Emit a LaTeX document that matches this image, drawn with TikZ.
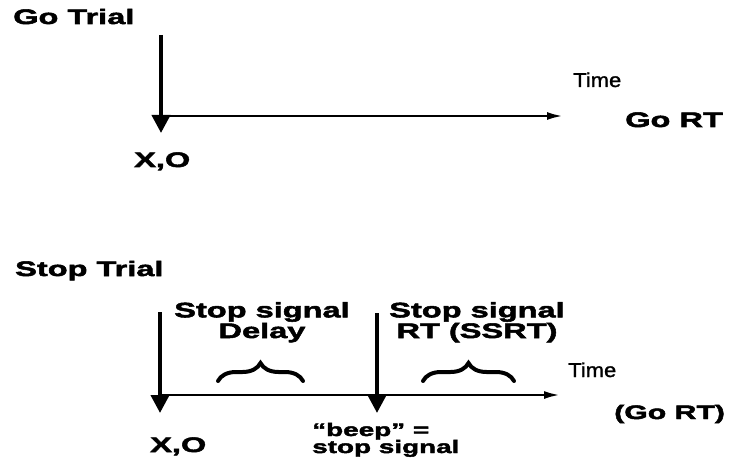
\documentclass[tikz,border=0pt]{standalone}
\usepackage{fontspec}
\setmainfont{Liberation Sans}
\newfontfamily\heavyfont[FakeStretch=1.55,FakeBold=2.5]{Liberation Sans}
\newfontfamily\plainfont[FakeStretch=1.1,FakeBold=1.2]{Liberation Sans}
\usetikzlibrary{arrows.meta, decorations.pathreplacing, positioning}

\begin{document}
\begin{tikzpicture}[
    x=1pt, y=-1pt,
    title/.style={font=\heavyfont\bfseries\fontsize{21}{19}\selectfont, inner sep=0pt, anchor=base west},
    label/.style={font=\heavyfont\bfseries\fontsize{21}{19}\selectfont, inner sep=0pt, align=center, anchor=base},
    note/.style={font=\heavyfont\bfseries\fontsize{18}{17}\selectfont, inner sep=0pt, align=left, anchor=base west},
    axislabel/.style={font=\plainfont\fontsize{20}{20}\selectfont, inner sep=0pt, anchor=base west},
    cue/.style={line width=4pt, -{Triangle[width=18pt, length=18pt]}},
    axis/.style={line width=2.5pt, -{Latex[width=8pt, length=16pt]}},
    curly/.style={line width=4pt, line cap=round, decorate, decoration={brace, amplitude=18pt}},
]
    \useasboundingbox (0,0) rectangle (735,470);
    % Go trial
    \node[title] (goTitle) at (13,24) {Go Trial};
    \coordinate (goStart) at (161,35);
    \coordinate (goOnset) at (161,133);
    \coordinate (goAxisStart) at (161,116);
    \coordinate (goAxisEnd) at (563,116);
    \draw[cue] (goStart) -- (goOnset);
    \draw[axis] (goAxisStart) -- (goAxisEnd);
    \node[axislabel] (goTime) at (573,87) {Time};
    \node[title] (goRT) at (625,127) {Go RT};
    \node[title] (goXO) at (134,167) {X,O};
    % Stop trial
    \node[title] (stopTitle) at (15,276) {Stop Trial};
    \coordinate (stopStart) at (160,312);
    \coordinate (stopOnset) at (160,413);
    \coordinate (beepStart) at (377,313);
    \coordinate (beepOnset) at (377,413);
    \coordinate (stopAxisStart) at (160,395);
    \coordinate (stopAxisEnd) at (560,395);
    \draw[cue] (stopStart) -- (stopOnset);
    \draw[cue] (beepStart) -- (beepOnset);
    \draw[axis] (stopAxisStart) -- (stopAxisEnd);
    \node[label] (ssd) at (262,338) {Stop signal\\Delay};
    \node[label] (ssrt) at (477,338) {Stop signal\\RT (SSRT)};
    \coordinate (ssdLeft) at (218,381);
    \coordinate (ssdRight) at (303,381);
    \coordinate (ssrtLeft) at (423,381);
    \coordinate (ssrtRight) at (514,381);
    \draw[curly] (ssdLeft) -- (ssdRight);
    \draw[curly] (ssrtLeft) -- (ssrtRight);
    \node[axislabel] (stopTime) at (568,377) {Time};
    \node[title, font=\heavyfont\bfseries\fontsize{19.5}{19}\selectfont] (stopRT) at (614,419) {(Go RT)};
    \node[title] (stopXO) at (150,452) {X,O};
    \node[note] (beep) at (312,453) {“beep” =\\stop signal};
\end{tikzpicture}
\end{document}
